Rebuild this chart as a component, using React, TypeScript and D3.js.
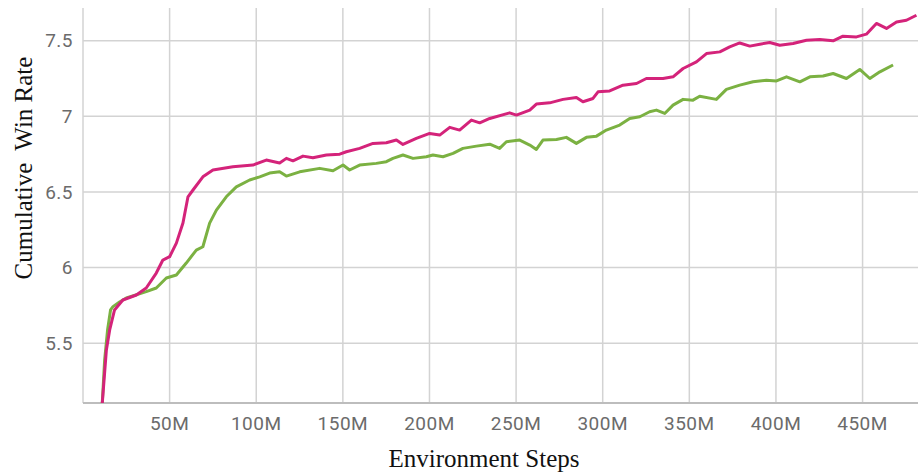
import React, { useEffect, useRef } from "react";
import * as d3 from "d3";

// steps in millions
const pinkSteps = [
  11.1, 13.5, 15.4, 18.2, 23.0, 30.8, 36.5, 42.3, 46.1, 50.0, 53.9, 57.7, 60.6, 63.5, 69.2, 75.0,
  86.5, 98.1, 105.8, 113.5, 117.4, 121.2, 127.0, 132.7, 140.5, 148.2, 152.0, 159.7, 167.4, 175.1,
  180.9, 184.7, 192.4, 200.1, 205.9, 211.7, 217.4, 224.2, 229.0, 234.8, 246.3, 250.2, 257.9, 261.7,
  269.4, 277.1, 284.8, 288.6, 294.4, 297.3, 304.0, 311.7, 319.5, 325.2, 334.8, 340.6, 346.4, 354.1,
  359.9, 367.6, 373.3, 379.1, 384.9, 390.7, 396.4, 402.2, 409.9, 417.6, 425.3, 433.0, 438.7, 446.5,
  452.2, 458.0, 463.8, 469.6, 475.3, 481.1,
];
const pinkRate = [
  5.1, 5.456, 5.588, 5.72, 5.786, 5.819, 5.865, 5.964, 6.05, 6.072, 6.162, 6.295, 6.468, 6.513, 6.6,
  6.645, 6.666, 6.678, 6.711, 6.691, 6.722, 6.706, 6.737, 6.726, 6.744, 6.75, 6.766, 6.788, 6.821,
  6.825, 6.843, 6.814, 6.854, 6.887, 6.876, 6.927, 6.909, 6.975, 6.957, 6.986, 7.023, 7.008, 7.041,
  7.081, 7.089, 7.112, 7.125, 7.096, 7.118, 7.162, 7.168, 7.206, 7.217, 7.25, 7.25, 7.261, 7.316,
  7.36, 7.415, 7.426, 7.459, 7.485, 7.464, 7.477, 7.488, 7.47, 7.481, 7.503, 7.508, 7.499, 7.53,
  7.525, 7.543, 7.614, 7.581, 7.624, 7.635, 7.668,
];

const greenSteps = [
  11.1, 12.5, 14.2, 15.9, 17.3, 21.1, 25.0, 36.5, 42.3, 48.1, 53.9, 59.6, 65.4, 69.2, 73.1, 77.0,
  82.7, 88.5, 96.2, 102.0, 107.7, 113.5, 117.4, 125.1, 136.6, 144.3, 150.1, 153.9, 159.7, 169.3,
  175.1, 178.9, 184.7, 190.5, 198.2, 202.0, 207.8, 213.6, 219.3, 227.1, 234.8, 240.5, 244.4, 252.1,
  257.9, 261.7, 265.5, 273.3, 279.0, 284.8, 290.6, 296.4, 302.1, 309.8, 315.6, 321.4, 327.1, 331.0,
  335.8, 340.6, 346.4, 352.1, 356.0, 365.6, 371.4, 379.1, 386.8, 394.5, 400.3, 406.1, 413.8, 419.6,
  427.2, 433.0, 440.7, 448.4, 454.2, 460.0, 467.6,
];
const greenRate = [
  5.1, 5.39, 5.59, 5.72, 5.742, 5.773, 5.799, 5.841, 5.865, 5.931, 5.951, 6.03, 6.116, 6.138, 6.294,
  6.38, 6.468, 6.534, 6.579, 6.6, 6.625, 6.633, 6.605, 6.633, 6.656, 6.64, 6.678, 6.645, 6.678,
  6.689, 6.7, 6.722, 6.744, 6.722, 6.733, 6.744, 6.733, 6.755, 6.788, 6.803, 6.816, 6.788, 6.832,
  6.843, 6.81, 6.781, 6.843, 6.847, 6.861, 6.821, 6.861, 6.869, 6.909, 6.942, 6.986, 6.997, 7.03,
  7.041, 7.019, 7.074, 7.112, 7.107, 7.133, 7.112, 7.178, 7.206, 7.228, 7.239, 7.234, 7.261, 7.228,
  7.261, 7.266, 7.283, 7.25, 7.31, 7.25, 7.294, 7.339,
];

const xTicks = [50, 100, 150, 200, 250, 300, 350, 400, 450];
const yTicks = [5.5, 6, 6.5, 7, 7.5];

const seriesColors = ["#d4237a", "#7bb142"];

export default function App() {
  const ref = useRef<SVGSVGElement>(null);

  useEffect(() => {
    const width = 918;
    const height = 474;
    const margin = { top: 8, right: 0, bottom: 71, left: 83 };

    const svg = d3.select(ref.current);
    svg.selectAll("*").remove();

    const x = d3
      .scaleLinear()
      .domain([0, 482])
      .range([margin.left, width - margin.right]);
    const y = d3
      .scaleLinear()
      .domain([5.105, 7.716])
      .range([height - margin.bottom, margin.top]);

    const tickFont = "Roboto, 'Noto Sans', sans-serif";

    // grid
    svg
      .append("g")
      .selectAll("line")
      .data(yTicks)
      .enter()
      .append("line")
      .attr("x1", margin.left)
      .attr("x2", width)
      .attr("y1", (d) => y(d))
      .attr("y2", (d) => y(d))
      .attr("stroke", "#d3d3d3")
      .attr("stroke-width", 1.5);

    svg
      .append("g")
      .selectAll("line")
      .data([0, ...xTicks])
      .enter()
      .append("line")
      .attr("x1", (d) => x(d))
      .attr("x2", (d) => x(d))
      .attr("y1", margin.top)
      .attr("y2", height - margin.bottom)
      .attr("stroke", "#d3d3d3")
      .attr("stroke-width", 1.5);

    // bottom axis line
    svg
      .append("line")
      .attr("x1", margin.left)
      .attr("x2", width)
      .attr("y1", height - margin.bottom)
      .attr("y2", height - margin.bottom)
      .attr("stroke", "#bdbdbd")
      .attr("stroke-width", 2);

    // tick labels
    svg
      .append("g")
      .selectAll("text")
      .data(yTicks)
      .enter()
      .append("text")
      .attr("x", 73)
      .attr("y", (d) => y(d))
      .attr("dy", "0.35em")
      .attr("text-anchor", "end")
      .attr("font-family", tickFont)
      .attr("font-size", 19)
      .attr("letter-spacing", 0.5)
      .attr("fill", "#6b6b6b")
      .text((d) => d3.format("")(d));

    svg
      .append("g")
      .selectAll("text")
      .data(xTicks)
      .enter()
      .append("text")
      .attr("x", (d) => x(d))
      .attr("y", 430)
      .attr("text-anchor", "middle")
      .attr("font-family", tickFont)
      .attr("font-size", 19)
      .attr("letter-spacing", 0.5)
      .attr("fill", "#6b6b6b")
      .text((d) => d + "M");

    // lines
    svg
      .append("clipPath")
      .attr("id", "plot-clip")
      .append("rect")
      .attr("x", margin.left)
      .attr("y", margin.top)
      .attr("width", width - margin.left)
      .attr("height", height - margin.bottom - margin.top);

    const line = d3
      .line<[number, number]>()
      .x((d) => x(d[0]))
      .y((d) => y(d[1]));

    const series: [number, number][][] = [
      pinkSteps.map((s, i) => [s, pinkRate[i]]),
      greenSteps.map((s, i) => [s, greenRate[i]]),
    ];

    svg
      .append("g")
      .attr("clip-path", "url(#plot-clip)")
      .selectAll("path")
      .data([series[1], series[0]])
      .enter()
      .append("path")
      .attr("d", (d) => line(d))
      .attr("fill", "none")
      .attr("stroke", (d, i) => seriesColors[1 - i])
      .attr("stroke-width", 3)
      .attr("stroke-linejoin", "round");

    // axis titles
    svg
      .append("text")
      .attr("x", 484)
      .attr("y", 467)
      .attr("text-anchor", "middle")
      .attr("font-family", "'Liberation Serif', 'Times New Roman', serif")
      .attr("font-size", 25)
      .attr("fill", "#111")
      .text("Environment Steps");

    svg
      .append("text")
      .attr("transform", "translate(32,168) rotate(-90)")
      .attr("text-anchor", "middle")
      .attr("font-family", "'Liberation Serif', 'Times New Roman', serif")
      .attr("font-size", 25)
      .attr("fill", "#111")
      .attr("xml:space", "preserve")
      .style("white-space", "pre")
      .text("Cumulative  Win Rate");
  }, []);

  return (
    <svg
      ref={ref}
      width="918"
      height="474"
      style={{ position: "absolute", left: 0, top: 0, background: "#fff" }}
    ></svg>
  );
}
